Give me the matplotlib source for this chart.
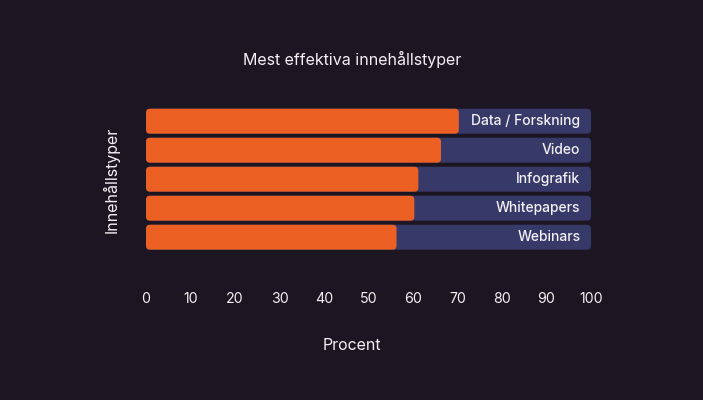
import matplotlib.pyplot as plt
from matplotlib.patches import FancyBboxPatch

categories = ['Data / Forskning', 'Video', 'Infografik', 'Whitepapers', 'Webinars']
values = [70.3, 66.3, 61.2, 60.3, 56.3]
ticks = [0, 10, 20, 30, 40, 50, 60, 70, 80, 90, 100]

bg = '#1c1522'
orange = '#ec6123'
navy = '#373a69'
white = '#f2f0f5'

plt.rcParams['font.family'] = ['Inter', 'DejaVu Sans']

fig = plt.figure(figsize=(7.03, 4.0), dpi=100, facecolor=bg)
ax = fig.add_axes([146 / 703, 1 - 251.7 / 400, 445 / 703, 145 / 400])
ax.set_facecolor(bg)

ypos = list(range(len(categories)))
h = 0.86
# px per unit: x ~4.45, y ~29
aspect = 4.45 / 29
rad = 0.9

for y, v, name in zip(ypos, values, categories):
    back = FancyBboxPatch((0, y - h / 2), 100, h,
                          boxstyle=f'round,pad=0,rounding_size={rad}',
                          mutation_aspect=aspect, fc=navy, ec='none')
    ax.add_patch(back)
    front = FancyBboxPatch((0, y - h / 2), v, h,
                           boxstyle=f'round,pad=0,rounding_size={rad}',
                           mutation_aspect=aspect, fc=orange, ec='none')
    ax.add_patch(front)
    ax.text(97.6, y, name, ha='right', va='center', color=white,
            fontsize=10.0, fontweight='medium')

ax.set_xlim(0, 100)
ax.set_ylim(len(categories) - 0.5, -0.5)
ax.set_xticks(ticks)
ax.set_xticklabels([str(t) for t in ticks])
ax.set_yticks([])
ax.tick_params(axis='x', length=0, pad=29, labelsize=10.2, colors=white)
for s in ax.spines.values():
    s.set_visible(False)

fig.text(352 / 703, 1 - 59 / 400, 'Mest effektiva innehållstyper',
         ha='center', va='center', color=white, fontsize=11.5)
fig.text(352 / 703, 1 - 345 / 400, 'Procent',
         ha='center', va='center', color=white, fontsize=11.5)
fig.text(111 / 703, 1 - 180 / 400, 'Innehållstyper', rotation=90,
         ha='center', va='center', color=white, fontsize=11.5)

fig.savefig('out.png', dpi=100, facecolor=bg)
